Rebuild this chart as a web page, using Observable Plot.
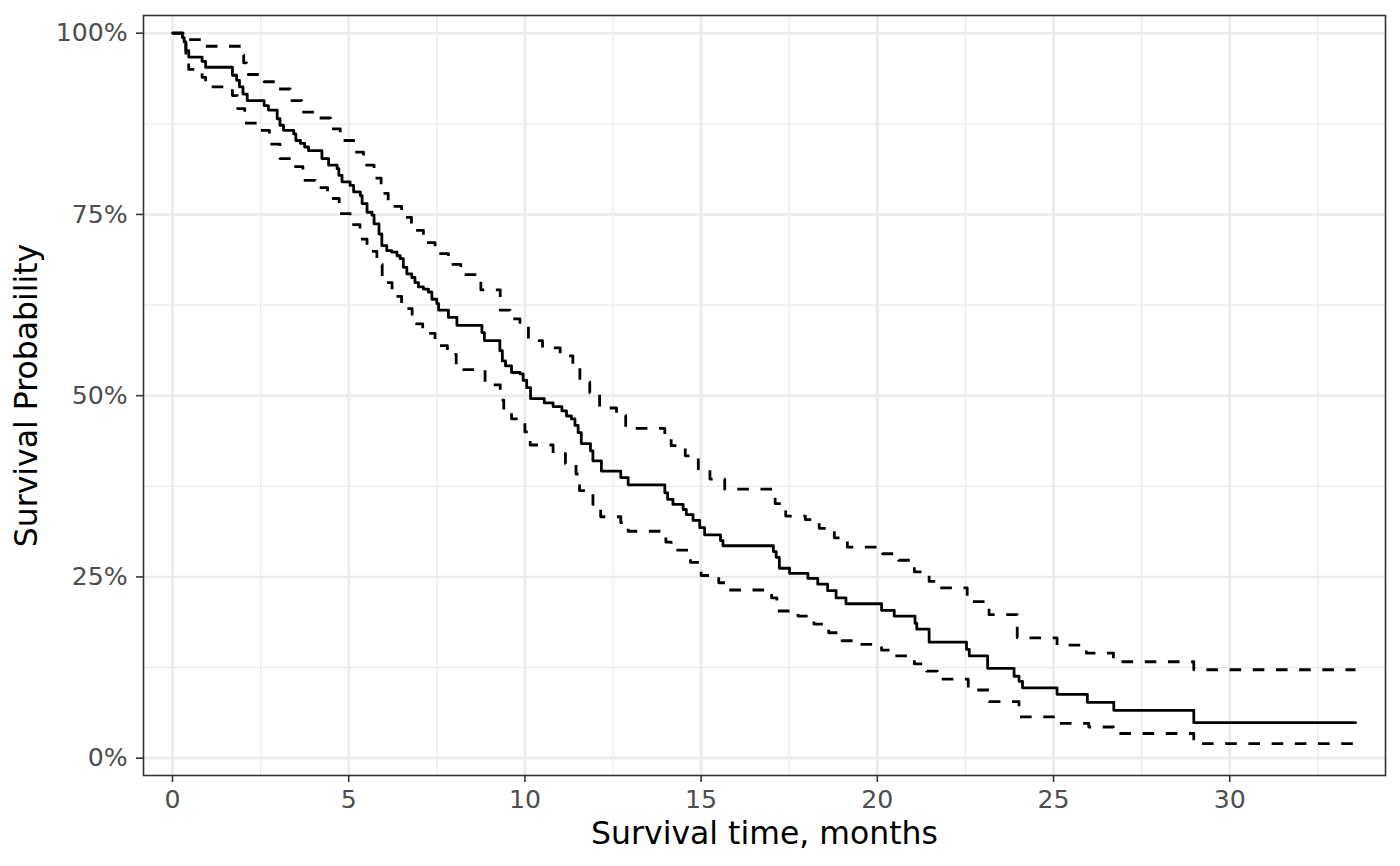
<!DOCTYPE html>
<html>
<head>
<meta charset="utf-8">
<script src="https://cdn.jsdelivr.net/npm/d3@7"></script>
<script src="https://cdn.jsdelivr.net/npm/@observablehq/plot@0.6"></script>
<style>
  html, body { margin: 0; padding: 0; background: white; }
  #chart { width: 1400px; height: 866px; }
</style>
</head>
<body>
<div id="chart"></div>
<script>
// Kaplan-Meier estimate (step-after): time in months, survival probability
const survTime = [0, 0.28, 0.33, 0.38, 0.46, 0.84, 0.94, 1.70, 1.82, 1.90, 2.00, 2.12, 2.60, 2.72, 2.97, 3.05, 3.15, 3.44, 3.50, 3.63, 3.75, 3.86, 4.24, 4.43, 4.67, 4.72, 4.81, 5.04, 5.14, 5.33, 5.38, 5.52, 5.66, 5.72, 5.86, 5.94, 6.08, 6.22, 6.37, 6.46, 6.55, 6.65, 6.79, 6.88, 6.98, 7.12, 7.26, 7.36, 7.50, 7.55, 7.83, 8.07, 8.78, 8.85, 9.29, 9.36, 9.45, 9.62, 9.86, 9.95, 10.05, 10.16, 10.55, 10.80, 11.05, 11.18, 11.32, 11.42, 11.51, 11.60, 11.86, 11.93, 12.17, 12.72, 12.93, 13.97, 14.05, 14.20, 14.49, 14.58, 14.77, 14.96, 15.10, 15.55, 15.62, 17.05, 17.13, 17.22, 17.51, 18.03, 18.31, 18.59, 18.83, 19.11, 20.12, 20.48, 21.07, 21.12, 21.47, 22.53, 22.61, 23.13, 23.88, 24.02, 24.12, 25.10, 25.96, 26.71, 28.98, 33.57];
const survProb = [1.000, 0.994, 0.988, 0.976, 0.967, 0.961, 0.953, 0.942, 0.935, 0.926, 0.916, 0.907, 0.900, 0.894, 0.882, 0.873, 0.866, 0.861, 0.852, 0.848, 0.843, 0.838, 0.827, 0.818, 0.813, 0.804, 0.795, 0.790, 0.781, 0.776, 0.765, 0.753, 0.749, 0.737, 0.723, 0.707, 0.700, 0.698, 0.693, 0.689, 0.677, 0.668, 0.663, 0.656, 0.650, 0.647, 0.643, 0.633, 0.627, 0.618, 0.608, 0.597, 0.587, 0.576, 0.562, 0.548, 0.541, 0.532, 0.530, 0.521, 0.511, 0.496, 0.490, 0.485, 0.479, 0.472, 0.468, 0.459, 0.449, 0.434, 0.424, 0.410, 0.396, 0.387, 0.377, 0.366, 0.357, 0.350, 0.343, 0.336, 0.328, 0.318, 0.308, 0.300, 0.293, 0.285, 0.277, 0.262, 0.255, 0.248, 0.240, 0.231, 0.221, 0.213, 0.204, 0.196, 0.186, 0.178, 0.160, 0.150, 0.141, 0.124, 0.113, 0.106, 0.097, 0.088, 0.077, 0.066, 0.049, 0.049];

// Upper 95% confidence bound
const upperTime = [0, 0.30, 0.42, 0.94, 1.97, 2.02, 2.10, 2.60, 2.97, 3.34, 3.67, 4.10, 4.48, 4.76, 5.14, 5.42, 5.72, 5.92, 6.12, 6.50, 6.78, 7.12, 7.45, 7.83, 8.18, 8.75, 9.30, 9.58, 9.86, 10.10, 10.50, 11.00, 11.36, 11.56, 11.84, 12.12, 12.60, 12.86, 13.97, 14.15, 14.55, 14.92, 15.25, 15.67, 17.10, 17.40, 17.96, 18.35, 18.78, 19.15, 20.15, 20.60, 21.05, 21.47, 21.76, 22.55, 23.17, 23.97, 25.10, 25.93, 26.70, 28.98, 33.57];
const upperProb = [1.000, 0.996, 0.991, 0.982, 0.970, 0.959, 0.943, 0.933, 0.923, 0.907, 0.891, 0.883, 0.868, 0.852, 0.836, 0.818, 0.800, 0.779, 0.761, 0.746, 0.728, 0.711, 0.696, 0.681, 0.667, 0.646, 0.618, 0.606, 0.595, 0.576, 0.566, 0.555, 0.541, 0.519, 0.504, 0.483, 0.473, 0.455, 0.447, 0.431, 0.417, 0.399, 0.385, 0.371, 0.351, 0.334, 0.329, 0.317, 0.304, 0.291, 0.282, 0.273, 0.257, 0.244, 0.235, 0.216, 0.198, 0.166, 0.156, 0.145, 0.133, 0.122, 0.122];

// Lower 95% confidence bound
const lowerTime = [0, 0.28, 0.38, 0.46, 0.84, 0.94, 1.70, 1.85, 2.05, 2.50, 2.75, 3.05, 3.43, 3.70, 4.05, 4.40, 4.73, 5.04, 5.32, 5.52, 5.80, 5.95, 6.23, 6.50, 6.80, 7.10, 7.45, 7.80, 8.05, 8.87, 9.30, 9.40, 9.62, 10.00, 10.15, 10.80, 11.15, 11.45, 11.55, 11.93, 12.15, 12.72, 12.93, 14.00, 14.15, 14.70, 15.00, 15.50, 15.70, 17.00, 17.15, 17.75, 18.20, 18.62, 19.00, 19.40, 20.12, 20.48, 21.05, 21.40, 21.70, 22.58, 23.17, 24.02, 25.10, 26.00, 26.70, 28.98, 33.57];
const lowerProb = [1.000, 0.985, 0.960, 0.950, 0.939, 0.926, 0.914, 0.896, 0.876, 0.866, 0.847, 0.827, 0.816, 0.797, 0.787, 0.772, 0.751, 0.736, 0.716, 0.699, 0.681, 0.656, 0.637, 0.620, 0.599, 0.586, 0.569, 0.557, 0.536, 0.515, 0.494, 0.480, 0.468, 0.450, 0.432, 0.420, 0.406, 0.392, 0.369, 0.350, 0.333, 0.325, 0.313, 0.298, 0.287, 0.270, 0.252, 0.242, 0.232, 0.221, 0.203, 0.196, 0.185, 0.173, 0.162, 0.157, 0.149, 0.141, 0.130, 0.120, 0.109, 0.094, 0.078, 0.057, 0.048, 0.043, 0.034, 0.020, 0.020];

// Axis ticks
const xTicks = [0, 5, 10, 15, 20, 25, 30];
const xMinorTicks = [2.5, 7.5, 12.5, 17.5, 22.5, 27.5, 32.5];
const yTicks = [0, 0.25, 0.5, 0.75, 1];
const yMinorTicks = [0.125, 0.375, 0.625, 0.875];
const xTitle = "Survival time, months";
const yTitle = "Survival Probability";

const toPairs = (ts, ps) => ts.map((t, i) => [t, ps[i]]);

const chart = Plot.plot({
  width: 1400,
  height: 866,
  marginLeft: 143,
  marginRight: 15,
  marginTop: 15,
  marginBottom: 91,
  style: { fontFamily: "DejaVu Sans", background: "white" },
  x: { domain: [-0.823, 34.42] },
  y: { domain: [-0.0239, 1.0244] },
  marks: [
    Plot.gridX(xMinorTicks, { stroke: "#EBEBEB", strokeOpacity: 1, strokeWidth: 1.3 }),
    Plot.gridY(yMinorTicks, { stroke: "#EBEBEB", strokeOpacity: 1, strokeWidth: 1.3 }),
    Plot.gridX(xTicks, { stroke: "#EBEBEB", strokeOpacity: 1, strokeWidth: 2.6 }),
    Plot.gridY(yTicks, { stroke: "#EBEBEB", strokeOpacity: 1, strokeWidth: 2.6 }),
    Plot.line(toPairs(upperTime, upperProb), { curve: "step-after", stroke: "black", strokeWidth: 2.8, strokeDasharray: "11.6 11.6", strokeLinecap: "butt" }),
    Plot.line(toPairs(lowerTime, lowerProb), { curve: "step-after", stroke: "black", strokeWidth: 2.8, strokeDasharray: "11.6 11.6", strokeLinecap: "butt" }),
    Plot.line(toPairs(survTime, survProb), { curve: "step-after", stroke: "black", strokeWidth: 2.8 }),
    Plot.frame({ stroke: "#333333", strokeWidth: 1.6 }),
    Plot.axisX(xTicks, { label: null, tickSize: 7, tickPadding: 7.6, fontSize: 25.2, stroke: "#333333", strokeWidth: 1.6, fill: "#4D4D4D", tickFormat: d => String(d) }),
    Plot.axisY(yTicks, { label: null, tickSize: 7, tickPadding: 8.7, fontSize: 25.2, stroke: "#333333", strokeWidth: 1.6, fill: "#4D4D4D", tickFormat: d3.format(".0%") }),
    Plot.text([xTitle], { frameAnchor: "bottom", dy: 68, lineAnchor: "bottom", textAnchor: "middle", fontSize: 31.5, fill: "black", text: d => d }),
    Plot.text([yTitle], { frameAnchor: "left", dx: -106.7, rotate: -90, lineAnchor: "bottom", textAnchor: "middle", fontSize: 31.5, fill: "black", text: d => d })
  ]
});
document.getElementById("chart").appendChild(chart);
</script>
</body>
</html>
